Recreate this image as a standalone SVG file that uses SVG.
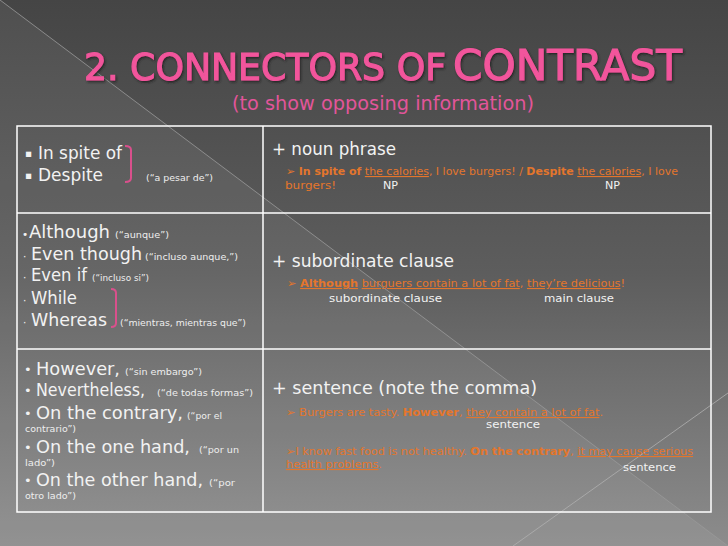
<svg xmlns="http://www.w3.org/2000/svg" width="728" height="546" viewBox="0 0 728 546">
<defs>
<linearGradient id="bg" x1="0" y1="0" x2="0" y2="1">
<stop offset="0" stop-color="#454545"/>
<stop offset="0.5" stop-color="#5d5d5d"/>
<stop offset="1" stop-color="#8c8c8c"/>
</linearGradient>
<filter id="ds" x="-5%" y="-20%" width="110%" height="150%">
<feDropShadow dx="1.2" dy="1.5" stdDeviation="0.8" flood-color="#1e1e1e" flood-opacity="0.85"/>
</filter>
<style>
text{font-family:"DejaVu Sans","Liberation Sans",sans-serif;}
.title{fill:#f2559c;stroke:#f2559c;stroke-width:1.1;filter:url(#ds);}
.sub{fill:#e2559a;font-size:19px;}
.big{fill:#f2f2f2;font-size:18px;}
.bul{fill:#f2f2f2;font-size:10.5px;}
.bul3{fill:#f2f2f2;font-size:13px;}
.head{fill:#f2f2f2;font-size:17px;}
.small{fill:#eeeeee;font-size:9px;}
.ex{fill:#e4762c;font-size:11px;}
.lab{fill:#f2f2f2;font-size:10.5px;}
.b{font-weight:bold;}
.u{text-decoration:underline;}
.br{fill:none;stroke:#d9508c;stroke-width:2;}
.grid{fill:none;stroke:#ffffff;stroke-width:1.5;}
</style>
</defs>
<rect width="728" height="546" fill="url(#bg)"/>
<polygon points="0,0 728,546 0,546" fill="#ffffff" opacity="0.06"/>
<line x1="0" y1="0" x2="728" y2="546" stroke="#9a9a9a" stroke-width="1" opacity="0.8"/>
<line x1="728" y1="393" x2="513" y2="546" stroke="#b0b0b0" stroke-width="1" opacity="0.8"/>

<g id="title">
<text x="84" y="80" class="title" font-size="37" textLength="362" lengthAdjust="spacingAndGlyphs">2. CONNECTORS OF</text>
<text x="453" y="80" class="title" font-size="42" textLength="229" lengthAdjust="spacingAndGlyphs">CONTRAST</text>
<text x="232" y="110" class="sub" textLength="302" lengthAdjust="spacingAndGlyphs">(to show opposing information)</text>
</g>

<g id="grid">
<rect x="17" y="126" width="694" height="386" class="grid"/>
<line x1="263" y1="126" x2="263" y2="512" class="grid"/>
<line x1="17" y1="213" x2="711" y2="213" class="grid"/>
<line x1="17" y1="349" x2="711" y2="349" class="grid"/>
</g>

<g id="cell-r1-left">
<text x="25" y="157" class="bul">▪</text>
<text x="38" y="159" class="big" textLength="84" lengthAdjust="spacingAndGlyphs">In spite of</text>
<text x="25" y="179" class="bul">▪</text>
<text x="38" y="181" class="big" textLength="65" lengthAdjust="spacingAndGlyphs">Despite</text>
<path class="br" d="M125,146 Q131,146 131,150 L131,178 Q131,182 125,182"/>
<text x="146" y="181" class="small" textLength="67" lengthAdjust="spacingAndGlyphs">(“a pesar de”)</text>
</g>

<g id="cell-r1-right">
<text x="272" y="155" class="head" textLength="124" lengthAdjust="spacingAndGlyphs">+ noun phrase</text>
<text x="286" y="175" class="ex" textLength="392" lengthAdjust="spacingAndGlyphs">➢ <tspan class="b">In spite of</tspan> <tspan class="u">the calories</tspan>, I love burgers! / <tspan class="b">Despite</tspan> <tspan class="u">the calories</tspan>, I love</text>
<text x="285" y="189" class="ex" textLength="51" lengthAdjust="spacingAndGlyphs">burgers!</text>
<text x="383" y="189" class="lab" textLength="15" lengthAdjust="spacingAndGlyphs">NP</text>
<text x="605" y="189" class="lab" textLength="15" lengthAdjust="spacingAndGlyphs">NP</text>
</g>

<g id="cell-r2-left">
<text x="22" y="238" class="bul">•</text>
<text x="29" y="238" class="big" textLength="81" lengthAdjust="spacingAndGlyphs">Although</text>
<text x="115" y="238" class="small" textLength="54" lengthAdjust="spacingAndGlyphs">(“aunque”)</text>
<text x="23" y="260" class="bul">·</text>
<text x="31" y="260" class="big" textLength="111" lengthAdjust="spacingAndGlyphs">Even though</text>
<text x="145" y="260" class="small" textLength="93" lengthAdjust="spacingAndGlyphs">(“incluso aunque,”)</text>
<text x="23" y="281" class="bul">·</text>
<text x="31" y="281" class="big" textLength="56" lengthAdjust="spacingAndGlyphs">Even if</text>
<text x="92" y="281" class="small" textLength="57" lengthAdjust="spacingAndGlyphs">(“incluso si”)</text>
<text x="23" y="304" class="bul">·</text>
<text x="31" y="304" class="big" textLength="46" lengthAdjust="spacingAndGlyphs">While</text>
<text x="23" y="326" class="bul">·</text>
<text x="31" y="326" class="big" textLength="76" lengthAdjust="spacingAndGlyphs">Whereas</text>
<path class="br" d="M111,289 Q116,289 116,293 L116,323 Q116,327 111,327"/>
<text x="120" y="326" class="small" textLength="126" lengthAdjust="spacingAndGlyphs">(“mientras, mientras que”)</text>
</g>

<g id="cell-r3-left">
<text x="24" y="374" class="bul3">•</text>
<text x="36" y="375" class="big" textLength="84" lengthAdjust="spacingAndGlyphs">However,</text>
<text x="125" y="375" class="small" textLength="77" lengthAdjust="spacingAndGlyphs">(“sin embargo”)</text>
<text x="24" y="395" class="bul3">•</text>
<text x="36" y="396" class="big" textLength="109" lengthAdjust="spacingAndGlyphs">Nevertheless,</text>
<text x="157" y="396" class="small" textLength="96" lengthAdjust="spacingAndGlyphs">(“de todas formas”)</text>
<text x="24" y="418" class="bul3">•</text>
<text x="36" y="419" class="big" textLength="147" lengthAdjust="spacingAndGlyphs">On the contrary,</text>
<text x="187" y="419" class="small" textLength="35" lengthAdjust="spacingAndGlyphs">(“por el</text>
<text x="25" y="432" class="small" textLength="51" lengthAdjust="spacingAndGlyphs">contrario”)</text>
<text x="24" y="452" class="bul3">•</text>
<text x="36" y="453" class="big" textLength="154" lengthAdjust="spacingAndGlyphs">On the one hand,</text>
<text x="199" y="453" class="small" textLength="40" lengthAdjust="spacingAndGlyphs">(“por un</text>
<text x="25" y="466" class="small" textLength="30" lengthAdjust="spacingAndGlyphs">lado”)</text>
<text x="24" y="485" class="bul3">•</text>
<text x="36" y="486" class="big" textLength="167" lengthAdjust="spacingAndGlyphs">On the other hand,</text>
<text x="209" y="486" class="small" textLength="26" lengthAdjust="spacingAndGlyphs">(“por</text>
<text x="25" y="499" class="small" textLength="51" lengthAdjust="spacingAndGlyphs">otro lado”)</text>
</g>

<g id="cell-r2-right">
<text x="272" y="267" class="head" textLength="182" lengthAdjust="spacingAndGlyphs">+ subordinate clause</text>
<text x="287" y="287" class="ex" textLength="338" lengthAdjust="spacingAndGlyphs">➢ <tspan class="b u">Although</tspan> <tspan class="u">burguers contain a lot of fat</tspan>, <tspan class="u">they’re delicious</tspan>!</text>
<text x="329" y="302" class="lab" textLength="113" lengthAdjust="spacingAndGlyphs">subordinate clause</text>
<text x="544" y="302" class="lab" textLength="70" lengthAdjust="spacingAndGlyphs">main clause</text>
</g>

<g id="cell-r3-right">
<text x="272" y="394" class="head" textLength="265" lengthAdjust="spacingAndGlyphs">+ sentence (note the comma)</text>
<text x="286" y="416" class="ex" textLength="317" lengthAdjust="spacingAndGlyphs">➢ Burgers are tasty. <tspan class="b">However</tspan>, <tspan class="u">they contain a lot of fat</tspan>.</text>
<text x="486" y="428" class="lab" textLength="54" lengthAdjust="spacingAndGlyphs">sentence</text>
<text x="286" y="455" class="ex" textLength="407" lengthAdjust="spacingAndGlyphs">➢I know fast food is not healthy. <tspan class="b">On the contrary</tspan>, <tspan class="u">it may cause serious</tspan></text>
<text x="286" y="468" class="ex" textLength="96" lengthAdjust="spacingAndGlyphs"><tspan class="u">health problems</tspan>.</text>
<text x="623" y="471" class="lab" textLength="53" lengthAdjust="spacingAndGlyphs">sentence</text>
</g>

<g id="connectors"></g>
</svg>
